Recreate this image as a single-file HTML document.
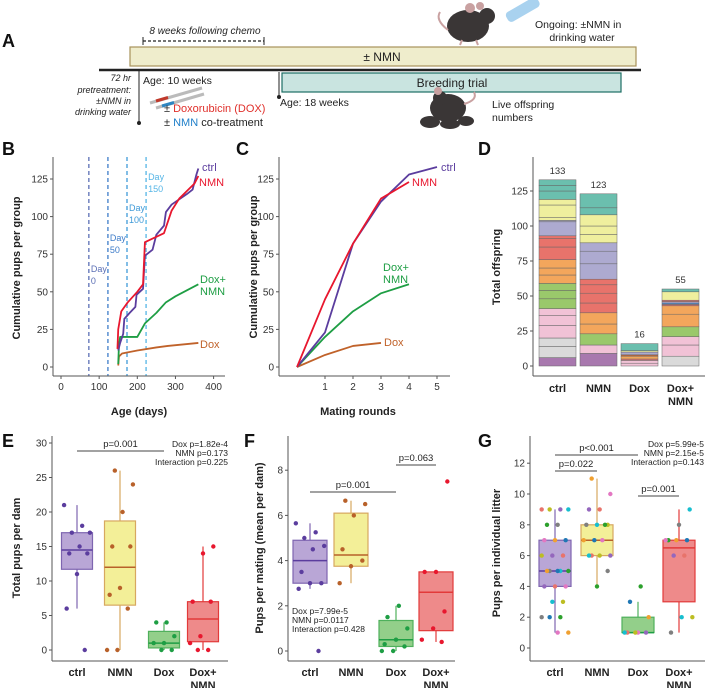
<!DOCTYPE html>
<html><head><meta charset="utf-8">
<style>
html,body{margin:0;padding:0;background:#fff;}
svg{display:block;font-family:"Liberation Sans",sans-serif;}
.tk{font-size:10px;fill:#333;}
.tt{font-size:11px;font-weight:bold;fill:#222;}
.pl{font-size:18px;font-weight:bold;fill:#111;}
</style></head>
<body>
<svg id="fig" width="705" height="688" viewBox="0 0 705 688" xmlns="http://www.w3.org/2000/svg">
<g>
<text class="pl" x="2" y="47">A</text>
<text x="205" y="34" font-size="10" font-style="italic" text-anchor="middle" fill="#222">8 weeks following chemo</text>
<line x1="143" y1="41" x2="264" y2="41" stroke="#222" stroke-width="1.2" stroke-dasharray="3,2"/>
<line x1="143" y1="37" x2="143" y2="45" stroke="#222"/>
<line x1="264" y1="37" x2="264" y2="45" stroke="#222"/>
<rect x="130" y="47" width="506" height="19" fill="#efedcc" stroke="#a8925a" stroke-width="1.2"/>
<text x="382" y="61" font-size="12" text-anchor="middle" fill="#222">± NMN</text>
<line x1="99" y1="70" x2="641" y2="70" stroke="#222" stroke-width="2.5"/>
<line x1="139" y1="70" x2="139" y2="123" stroke="#222"/>
<circle cx="139" cy="123" r="2" fill="#222"/>
<text x="143" y="84" font-size="10.5" fill="#222">Age: 10 weeks</text>
<g font-size="9" font-style="italic" text-anchor="end" fill="#222">
<text x="131" y="81">72 hr</text><text x="131" y="93">pretreatment:</text><text x="131" y="104">±NMN in</text><text x="131" y="115">drinking water</text>
</g>
<g>
<line x1="150" y1="103" x2="202" y2="88" stroke="#bbb" stroke-width="3"/>
<line x1="156" y1="101" x2="168" y2="97.5" stroke="#c0392b" stroke-width="3"/>
<line x1="156" y1="108" x2="204" y2="94" stroke="#bbb" stroke-width="3"/>
<line x1="162" y1="106" x2="174" y2="102.5" stroke="#2e86c1" stroke-width="3"/>
</g>
<text x="164" y="112" font-size="11" fill="#222">± <tspan fill="#e0302b">Doxorubicin (DOX)</tspan></text>
<text x="164" y="126" font-size="11" fill="#222">± <tspan fill="#1f7fc9">NMN</tspan> co-treatment</text>
<line x1="279" y1="72" x2="279" y2="97" stroke="#222"/>
<circle cx="279" cy="97" r="2" fill="#222"/>
<rect x="282" y="73" width="339" height="19" fill="#c9e4e0" stroke="#1d6e64" stroke-width="1.2"/>
<text x="452" y="87" font-size="12" text-anchor="middle" fill="#222">Breeding trial</text>
<text x="280" y="106" font-size="10.5" fill="#222">Age: 18 weeks</text>
<text x="492" y="108" font-size="10.5" fill="#222">Live offspring</text>
<text x="492" y="121" font-size="10.5" fill="#222">numbers</text>
<g>
<ellipse cx="468" cy="26" rx="21" ry="16" fill="#3a3636"/>
<circle cx="487" cy="16" r="8" fill="#3a3636"/>
<circle cx="470" cy="8" r="5" fill="#c9a1a1"/>
<circle cx="480" cy="6" r="4" fill="#c9a1a1"/>
<path d="M448 30 Q435 20 440 12" stroke="#c9a1a1" stroke-width="2" fill="none"/>
<line x1="462" y1="40" x2="460" y2="45" stroke="#c9a1a1" stroke-width="2"/>
<line x1="476" y1="40" x2="478" y2="45" stroke="#c9a1a1" stroke-width="2"/>
<rect x="505" y="4" width="36" height="11" rx="4" fill="#a9d2ef" transform="rotate(-30 523 10)"/>
</g>
<text x="535" y="28" font-size="10.5" fill="#222">Ongoing: ±NMN in</text>
<text x="582" y="41" font-size="10.5" text-anchor="middle" fill="#222">drinking water</text>
<g>
<ellipse cx="448" cy="108" rx="18" ry="14" fill="#3a3636"/>
<circle cx="440" cy="98" r="7" fill="#3a3636"/>
<circle cx="438" cy="91" r="4" fill="#c9a1a1"/>
<ellipse cx="430" cy="122" rx="10" ry="6" fill="#3a3636"/>
<ellipse cx="450" cy="124" rx="10" ry="5" fill="#3a3636"/>
<ellipse cx="466" cy="121" rx="8" ry="5" fill="#3a3636"/>
<path d="M464 104 Q478 100 474 92" stroke="#c9a1a1" stroke-width="2" fill="none"/>
</g>
</g>
<text class="pl" x="2" y="155">B</text>
<text class="pl" x="236" y="155">C</text>
<text class="pl" x="478" y="155">D</text>
<text class="pl" x="2" y="447">E</text>
<text class="pl" x="244" y="447">F</text>
<text class="pl" x="478" y="447">G</text>
</svg>
<script>
// ---------- Panel B data ----------
const bCtrlDays = [150,155,163,166,180,195,198,215,220,240,250,270,275,290,330,345,355,360];
const bCtrlVals = [11,16,22,32,36,40,48,52,74,78,88,94,103,108,115,118,128,132];
const bNmnDays = [148,150,158,175,200,215,220,270,290,310,330,350,360];
const bNmnVals = [12,25,37,43,50,55,83,89,104,112,117,122,127];
const bDoxNmnDays = [150,152,155,200,220,250,275,300,330,360];
const bDoxNmnVals = [2,15,20,20,29,36,43,47,51,55];
const bDoxDays = [150,152,160,200,250,280,320,360];
const bDoxVals = [1,7,9,11,13,14,15,16];
const bDayMarks = [73,123,173,223];
const bDayLabels = ['0','50','100','150'];
const bXTicks = [0,100,200,300,400];
const bYTicks = [0,25,50,75,100,125];
// ---------- Panel C data ----------
const cRounds = [0,1,2,3,4,5];
const cCtrl = [0,23,82,110,128,133];
const cNmn = [0,45,82,112,123];
const cDoxNmn = [0,20,37,49,55];
const cDox = [0,8,14,16];
const cXTicks = [1,2,3,4,5];
// ---------- Panel D data ----------
const dCats = ['ctrl','NMN','Dox','Dox+NMN'];
const dTotals = [133,123,16,55];
const dCtrlSegs = [6,8,6,9,7,5,7,6,5,6,5,6,9,6,2,10,1,2,9,4,6,4,4];
const dCtrlKeys = ['pu','gr','gr','pk','pk','pk','gn','gn','gn','or','or','or','rd','rd','rd','lv','lv','ye','ye','ye','te','te','te'];
const dNmnSegs = [9,6,8,7,8,7,7,6,4,11,9,6,6,6,8,5,10];
const dNmnKeys = ['pu','pk','gn','or','or','rd','rd','rd','rd','lv','lv','lv','ye','ye','ye','te','te'];
const dDoxSegs = [2,2,1,2,1,2,1,5];
const dDoxKeys = ['pk','pk','rd','or','br','lv','ye','te'];
const dDoxNmnSegs = [7,8,6,7,9,6,1,1,1,1,6,2];
const dDoxNmnKeys = ['gr','pk','pk','gn','or','or','rd','bl','lv','rd','ye','te'];
const dYTicks = [0,25,50,75,100,125];
// ---------- Panel E data ----------
const eCats = ['ctrl','NMN','Dox','Dox+NMN'];
const eQ1 = [11.7,6.5,0.3,1.2];
const eMed = [14.5,12,1,4.5];
const eQ3 = [17,18.7,2.7,7];
const eLo = [6,0,0,0];
const eHi = [21,26,4,15];
const ePts = [[21,18,17,17,15,14,14,11,6,0],[26,24,20,15,15,9,8,6,0,0],[4,4,2,1,1,0,0],[15,14,7,7,2,1,0,0]];
const eYTicks = [0,5,10,15,20,25,30];
// ---------- Panel F data ----------
const fQ1 = [3,3.75,0.2,0.9];
const fMed = [4,4.25,0.5,2.6];
const fQ3 = [4.9,6.1,1.35,3.5];
const fLo = [2.75,3,0,0.4];
const fHi = [5.65,6.65,2,3.5];
const fPts = [[5.65,5.25,5,4.65,4.5,3.5,3,3,2.75,0],[6.65,6.5,6,4.5,4,3.75,3],[2,1.5,1,0.5,0.3,0.2,0,0],[7.5,3.5,3.5,1.75,1,0.5,0.4]];
const fYTicks = [0,2,4,6,8];
// ---------- Panel G data ----------
const gQ1 = [4,6,1,3];
const gMed = [5,7,1,6.5];
const gQ3 = [7,8,2,7];
const gLo = [1,4,1,1];
const gHi = [9,11,3,9];
const gPts = [[9,9,9,9,8,8,7,7,7,6,6,6,5,5,5,5,5,4,4,4,3,3,2,2,2,1,1],[11,10,9,9,8,8,8,8,7,7,7,6,6,6,6,5,4],[4,3,2,1,1,1,1,1],[9,8,7,7,7,7,6,6,2,2,1]];
const gYTicks = [0,2,4,6,8,10,12];

const NS='http://www.w3.org/2000/svg';
const svg=document.getElementById('fig');
function mk(tag,attrs,parent){const el=document.createElementNS(NS,tag);for(const k in attrs)el.setAttribute(k,attrs[k]);(parent||svg).appendChild(el);return el;}
function tx(x,y,s,attrs,parent){const el=mk('text',Object.assign({x:x,y:y},attrs||{}),parent);el.textContent=s;return el;}
const AX='#555';
const GC={ctrl:'#5b3d9e',nmn:'#e8172e',doxnmn:'#1e9e44',dox:'#c0622a'};

function yAxis(g,x,yTop,yBot,ticks,yf){
  const ln=mk('line',{x1:x,y1:yTop,x2:x,y2:yBot,stroke:AX,'stroke-width':1},g);
  
  
  ticks.forEach(t=>{
    const tk=mk('line',{x1:x-3,y1:yf(t),x2:x,y2:yf(t),stroke:AX},g);
    
    
    const lb=tx(x-5,yf(t)+3.5,String(t),{class:'tk','text-anchor':'end'},g);
    
    
  });
}
function xAxis(g,y,xL,xR){
  const ln=mk('line',{x1:xL,y1:y,x2:xR,y2:y,stroke:AX,'stroke-width':1},g);
  
  
}
function yTitle(g,x,cy,s){
  const t=tx(x,cy,s,{class:'tt','text-anchor':'middle',transform:`rotate(-90 ${x} ${cy})`},g);
  
  
}
function poly(g,xs,ys,xf,yf,color){
  const p=mk('polyline',{points:xs.map((d,i)=>xf(d)+','+yf(ys[i])).join(' '),fill:'none',stroke:color,'stroke-width':1.8,'stroke-linejoin':'round'},g);
  return p;
}
function lbl(g,x,y,s,color){
  const t=tx(x,y,s,{'font-size':11,fill:color},g);
  
  
}

// ---------- Panel B ----------
(function(){
  const g=mk('g',{});
  
  
  const xf=d=>61+d*0.3815, yf=v=>367-v*1.504;
  const dashCols=['#5b6fb5','#3d7cc9','#3f9ad8','#55b5e6'];
  bDayMarks.forEach((d,i)=>{
    const l=mk('line',{x1:xf(d),y1:157,x2:xf(d),y2:376,stroke:dashCols[i],'stroke-width':1.3,'stroke-dasharray':'4,3'},g);
    
    
    const ly=[272,241,211,180][i];
    const t1=tx(xf(d)+2,ly,'Day',{'font-size':9,fill:dashCols[i]},g);
    
    
    const t2=tx(xf(d)+2,ly+12,bDayLabels[i],{'font-size':9,fill:dashCols[i]},g);
    
    
  });
  yAxis(g,53,157,376,bYTicks,yf);
  xAxis(g,376,53,225);
  bXTicks.forEach(t=>{
    const tk=mk('line',{x1:xf(t),y1:376,x2:xf(t),y2:379,stroke:AX},g);
    
    
    const lb=tx(xf(t),390,String(t),{class:'tk','text-anchor':'middle'},g);
    
    
  });
  const s1=poly(g,bDoxDays,bDoxVals,xf,yf,GC.dox);
  
  
  const s2=poly(g,bDoxNmnDays,bDoxNmnVals,xf,yf,GC.doxnmn);
  
  
  const s3=poly(g,bCtrlDays,bCtrlVals,xf,yf,GC.ctrl);
  
  
  const s4=poly(g,bNmnDays,bNmnVals,xf,yf,GC.nmn);
  
  
  lbl(g,202,171,'ctrl',GC.ctrl);
  lbl(g,199,186,'NMN',GC.nmn);
  lbl(g,200,283,'Dox+',GC.doxnmn);
  lbl(g,200,295,'NMN',GC.doxnmn);
  lbl(g,200,348,'Dox',GC.dox);
  const xt=tx(139,415,'Age (days)',{class:'tt','text-anchor':'middle'},g);
  
  
  yTitle(g,20,268,'Cumulative pups per group');
})();

// ---------- Panel C ----------
(function(){
  const g=mk('g',{});
  
  
  const xf=r=>297+r*28, yf=v=>367-v*1.504;
  yAxis(g,279,157,376,bYTicks,yf);
  xAxis(g,376,279,450);
  cXTicks.forEach(t=>{
    const tk=mk('line',{x1:xf(t),y1:376,x2:xf(t),y2:379,stroke:AX},g);
    
    
    const lb=tx(xf(t),390,String(t),{class:'tk','text-anchor':'middle'},g);
    
    
  });
  const s1=poly(g,cRounds.slice(0,cDox.length),cDox,xf,yf,GC.dox);
  
  
  const s2=poly(g,cRounds.slice(0,cDoxNmn.length),cDoxNmn,xf,yf,GC.doxnmn);
  
  
  const s3=poly(g,cRounds.slice(0,cCtrl.length),cCtrl,xf,yf,GC.ctrl);
  
  
  const s4=poly(g,cRounds.slice(0,cNmn.length),cNmn,xf,yf,GC.nmn);
  
  
  lbl(g,441,171,'ctrl',GC.ctrl);
  lbl(g,412,186,'NMN',GC.nmn);
  lbl(g,383,271,'Dox+',GC.doxnmn);
  lbl(g,383,283,'NMN',GC.doxnmn);
  lbl(g,384,346,'Dox',GC.dox);
  const xt=tx(358,415,'Mating rounds',{class:'tt','text-anchor':'middle'},g);
  
  
  yTitle(g,257,267,'Cumulative pups per group');
})();

// ---------- Panel D ----------
(function(){
  const g=mk('g',{});
  
  
  const yf=v=>366-v*1.4;
  const cols={pu:'#a878ae',gr:'#dadada',pk:'#f1c2d6',gn:'#9ac86b',or:'#f3a65c',rd:'#e8736b',lv:'#adaad0',ye:'#efef9e',te:'#6bbfae',br:'#b5653a',bl:'#4a90d9'};
  const segs=[dCtrlSegs,dNmnSegs,dDoxSegs,dDoxNmnSegs];
  const keys=[dCtrlKeys,dNmnKeys,dDoxKeys,dDoxNmnKeys];
  yAxis(g,533,157,376,dYTicks,yf);
  xAxis(g,376,533,705);
  dCats.forEach((c,i)=>{
    const x0=539+i*41;
    let cum=0;
    segs[i].forEach((s,j)=>{
      const r=mk('rect',{x:x0,y:yf(cum+s),width:37,height:s*1.4,fill:cols[keys[i][j]],stroke:'#666','stroke-width':0.5},g);
      
      
      cum+=s;
    });
    const tl=tx(x0+18.5,yf(dTotals[i])-6,String(dTotals[i]),{'font-size':9.5,fill:'#333','text-anchor':'middle'},g);
    
    
    const parts=c==='Dox+NMN'?['Dox+','NMN']:[c];
    parts.forEach((p,k)=>{
      const xl=tx(x0+18.5,392+k*13,p,{class:'tt','text-anchor':'middle','font-size':10.5},g);
      
      
    });
  });
  yTitle(g,500,267,'Total offspring');
})();

// ---------- Box plots ----------
const BOX=[
  {fill:'#b9a6d6',stroke:'#7e65b0',med:'#5b3d9e',pt:'#5b3d9e'},
  {fill:'#f3ef98',stroke:'#d7a860',med:'#b8612a',pt:'#b8612a'},
  {fill:'#93cf8a',stroke:'#4fb05c',med:'#1e9e44',pt:'#1e9e44'},
  {fill:'#ee8a8a',stroke:'#e23a3a',med:'#e23a3a',pt:'#e8172e'}
];
const MULTI=['#e8736b','#f0a030','#2ca02c','#17becf','#9467bd','#e377c2','#1f77b4','#7f7f7f','#bcbd22'];
function boxPanel(cfg){
  const g=mk('g',{});
  
  
  const yf=v=>cfg.y0-v*cfg.k;
  yAxis(g,cfg.ax,cfg.top,cfg.bot,cfg.ticks,yf);
  xAxis(g,cfg.bot,cfg.ax,cfg.right);
  eCats.forEach((c,i)=>{
    const cx=cfg.cx[i], st=BOX[i], w=cfg.w;
    const wl=mk('line',{x1:cx,y1:yf(cfg.lo[i]),x2:cx,y2:yf(cfg.hi[i]),stroke:st.stroke,'stroke-width':1.2},g);
    
    
    const b=mk('rect',{x:cx-w/2,y:yf(cfg.q3[i]),width:w,height:(cfg.q3[i]-cfg.q1[i])*cfg.k,fill:st.fill,stroke:st.stroke,'stroke-width':1.2},g);
    
    
    const m=mk('line',{x1:cx-w/2,y1:yf(cfg.med[i]),x2:cx+w/2,y2:yf(cfg.med[i]),stroke:st.med,'stroke-width':1.5},g);
    
    
    cfg.pts[i].forEach((v,j)=>{
      const jit=(((j*7+i*3)%11)-5)*cfg.w/12;
      const col=cfg.multi?MULTI[(j*4+i)%MULTI.length]:st.pt;
      const p=mk('circle',{cx:cx+jit,cy:yf(v),r:2.2,fill:col},g);
      
      
    });
    const parts=c==='Dox+NMN'?['Dox+','NMN']:[c];
    parts.forEach((p,k)=>{
      const xl=tx(cx,cfg.bot+15+k*13,p,{class:'tt','text-anchor':'middle','font-size':10.5},g);
      
      
    });
  });
  cfg.brackets.forEach(b=>{
    const l=mk('line',{x1:cfg.cx[b[0]],y1:b[2],x2:cfg.cx[b[1]],y2:b[2],stroke:'#444','stroke-width':1},g);
    
    
    const t=tx((cfg.cx[b[0]]+cfg.cx[b[1]])/2,b[2]-4,b[3],{'font-size':9.5,fill:'#222','text-anchor':'middle'},g);
    
    
  });
  cfg.stats.forEach((s,k)=>{
    const t=tx(cfg.sx,cfg.sy+k*9,s,{'font-size':8.5,fill:'#222','text-anchor':cfg.sa},g);
    
    
  });
  yTitle(g,cfg.tx,cfg.ty,cfg.title);
}
boxPanel({name:'panel-e-total-pups',ax:52,top:436,bot:661,right:228,y0:650,k:6.9,ticks:eYTicks,cx:[77,120,164,203],w:31,
  q1:eQ1,med:eMed,q3:eQ3,lo:eLo,hi:eHi,pts:ePts,multi:false,brackets:[[0,2,451,'p=0.001']],
  stats:['Dox p=1.82e-4','NMN p=0.173','Interaction p=0.225'],sx:228,sy:447,sa:'end',tx:20,ty:548,title:'Total pups per dam'});
boxPanel({name:'panel-f-pups-per-mating',ax:288,top:436,bot:661,right:455,y0:651,k:22.6,ticks:fYTicks,cx:[310,351,396,436],w:34,
  q1:fQ1,med:fMed,q3:fQ3,lo:fLo,hi:fHi,pts:fPts,multi:false,brackets:[[0,2,492,'p=0.001'],[2,3,465,'p=0.063']],
  stats:['Dox p=7.99e-5','NMN p=0.0117','Interaction p=0.428'],sx:292,sy:614,sa:'start',tx:263,ty:548,title:'Pups per mating (mean per dam)'});
boxPanel({name:'panel-g-pups-per-litter',ax:530,top:436,bot:661,right:705,y0:648,k:15.4,ticks:gYTicks,cx:[555,597,638,679],w:32,
  q1:gQ1,med:gMed,q3:gQ3,lo:gLo,hi:gHi,pts:gPts,multi:true,brackets:[[0,2,455,'p<0.001'],[0,1,471,'p=0.022'],[2,3,496,'p=0.001']],
  stats:['Dox p=5.99e-5','NMN p=2.15e-5','Interaction p=0.143'],sx:704,sy:447,sa:'end',tx:500,ty:553,title:'Pups per individual litter'});
</script>
</body></html>
